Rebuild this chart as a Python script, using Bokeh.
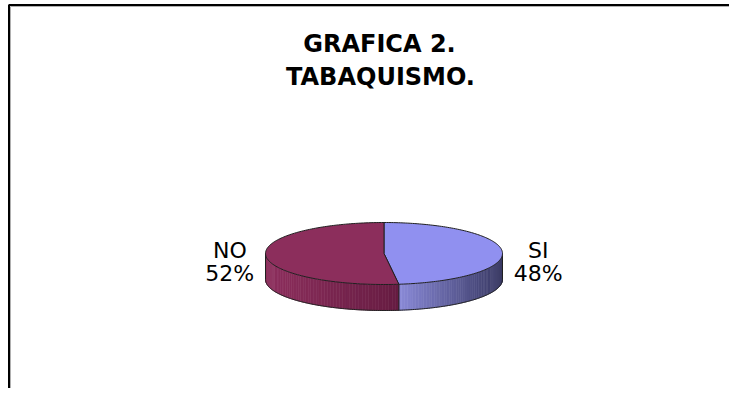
import numpy as np
from bokeh.plotting import figure
from bokeh.models import Range1d
from bokeh.core.properties import value
from bokeh.embed import file_html
from bokeh.resources import INLINE

# ---- data ----
title_lines = ["GRAFICA 2.", "TABAQUISMO."]
categories = ["SI", "NO"]
percent = [48, 52]
top_colors = ["#9090f0", "#8c2e5c"]
side_light = ["#8a8ad8", "#8e305e"]
side_dark = ["#383862", "#661c42"]

# ---- layout ----
W, H = 729, 388
p = figure(width=W, height=H, x_range=Range1d(0, W), y_range=Range1d(H, 0),
           output_backend="svg", toolbar_location=None, min_border=0,
           x_axis_location=None, y_axis_location=None, outline_line_color=None)
p.grid.visible = False
p.background_fill_color = "white"
p.border_fill_color = "white"

# chart-area frame (only top and left visible in the reference crop)
p.line([8.5, 8.5, W], [H, 4.5, 4.5], line_color="black", line_width=2)
p.line([10, 10, W], [H, 6, 6], line_color="#b0b0b0", line_width=1)

cx, cy, a, b, depth = 383.5, 253.0, 118.5, 31.0, 26.0


def ex(t):
    return cx + a * np.sin(np.radians(t))


def ey(t, dy=0.0):
    return cy - b * np.cos(np.radians(t)) + dy


def hex2rgb(h):
    h = h.lstrip("#")
    return np.array([int(h[i:i + 2], 16) for i in (0, 2, 4)], dtype=float)


def mix(c1, c2, t):
    r = hex2rgb(c1) * (1 - t) + hex2rgb(c2) * t
    return "#%02x%02x%02x" % tuple(int(round(v)) for v in r)


total = float(sum(percent))
ends = np.cumsum(percent) / total * 360.0
starts = np.concatenate([[0.0], ends[:-1]])

# ---- side walls (front half: 90..270 deg clockwise from top) ----
for i in range(len(categories)):
    s, e = max(starts[i], 90.0), min(ends[i], 270.0)
    if e <= s:
        continue
    n = 60
    th = np.linspace(s, e, n + 1)
    xs_all = ex(th)
    xmin, xmax = xs_all.min(), xs_all.max()
    xs_list, ys_list, cols = [], [], []
    for j in range(n):
        t0, t1 = th[j], th[j + 1]
        tt = np.linspace(t0, t1, 3)
        px = list(ex(tt)) + list(ex(tt[::-1]))
        py = list(ey(tt)) + list(ey(tt[::-1], depth))
        xm = (ex(t0) + ex(t1)) / 2
        f = (xm - xmin) / (xmax - xmin) if xmax > xmin else 0
        cols.append(mix(side_light[i], side_dark[i], f))
        xs_list.append(px)
        ys_list.append(py)
    p.patches(xs_list, ys_list, fill_color=cols, line_color=cols, line_width=0.6)

# side outlines
tb = np.linspace(90, 270, 200)
p.line(ex(tb), ey(tb, depth), line_color="#202020", line_width=1)
for t in [90.0, 270.0] + [v for v in starts if 90 < v < 270]:
    p.line([ex(t), ex(t)], [ey(t), ey(t, depth)], line_color="#202020", line_width=1)

# ---- top faces ----
xs_top, ys_top = [], []
for i in range(len(categories)):
    tt = np.linspace(starts[i], ends[i], 150)
    xs_top.append([cx] + list(ex(tt)))
    ys_top.append([cy] + list(ey(tt)))
p.patches(xs_top, ys_top, fill_color=top_colors, line_color="#202020", line_width=1)

# ---- labels ----
mids = (starts + ends) / 2
lab_x = [cx + (a + 36) * np.sin(np.radians(m)) for m in mids]
p.text(x=lab_x, y=[cy - 3] * len(categories), text=categories,
       text_font=value("DejaVu Sans"), text_font_size="22px",
       text_align="center", text_baseline="alphabetic", text_color="black")
p.text(x=lab_x, y=[cy + 20] * len(categories), text=["%d%%" % v for v in percent],
       text_font=value("DejaVu Sans"), text_font_size="22px",
       text_align="center", text_baseline="alphabetic", text_color="black")

# ---- title ----
p.text(x=[379, 380], y=[43, 76], text=title_lines,
       text_font=value("DejaVu Sans"), text_font_style="bold", text_font_size="24px",
       text_align="center", text_baseline="alphabetic", text_color="black")

open("out.html", "w").write(file_html(p, INLINE))
